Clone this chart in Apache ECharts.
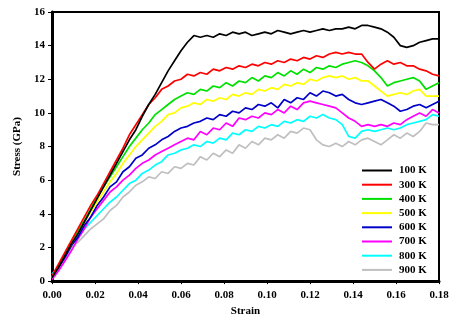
<!DOCTYPE html>
<html><head><meta charset="utf-8">
<script src="https://cdn.jsdelivr.net/npm/echarts@6/dist/echarts.min.js"></script>
<style>html,body{margin:0;padding:0;background:#fff}#c{width:453px;height:322px}</style>
</head><body><div id="c"></div>
<script>
var strain = [0,0.003,0.006,0.009,0.012,0.015,0.018,0.021,0.024,0.027,0.030,0.033,0.036,0.039,0.042,0.045,0.048,0.051,0.054,0.057,0.060,0.063,0.066,0.069,0.072,0.075,0.078,0.081,0.084,0.087,0.090,0.093,0.096,0.099,0.102,0.105,0.108,0.111,0.114,0.117,0.120,0.123,0.126,0.129,0.132,0.135,0.138,0.141,0.144,0.147,0.150,0.153,0.156,0.159,0.162,0.165,0.168,0.171,0.174,0.177,0.180];
var names = ['100 K','300 K','400 K','500 K','600 K','700 K','800 K','900 K'];
var s100 = [0.2,0.8,1.5,2.2,2.8,3.5,4.2,4.9,5.6,6.3,7.0,7.7,8.4,9.0,9.8,10.5,11.1,11.8,12.5,13.1,13.7,14.2,14.6,14.5,14.6,14.5,14.7,14.6,14.8,14.7,14.8,14.6,14.7,14.8,14.7,14.9,14.8,14.7,14.8,14.9,14.8,14.9,15.0,14.9,15.0,15.0,15.1,15.0,15.2,15.2,15.1,15.0,14.8,14.5,14.0,13.9,14.0,14.2,14.3,14.4,14.4];
var s300 = [0.3,1.0,1.7,2.4,3.1,3.8,4.5,5.1,5.8,6.5,7.2,7.9,8.7,9.3,9.9,10.5,10.9,11.4,11.6,11.9,12.0,12.3,12.2,12.4,12.3,12.6,12.5,12.7,12.6,12.8,12.7,12.9,12.8,13.0,12.9,13.1,13.0,13.2,13.1,13.3,13.2,13.4,13.3,13.5,13.6,13.5,13.6,13.5,13.5,13.0,12.6,12.9,13.1,12.9,13.0,12.8,12.8,12.6,12.5,12.3,12.2];
var s400 = [0.2,0.9,1.6,2.3,3.0,3.6,4.3,5.0,5.6,6.2,6.8,7.4,8.0,8.5,9.0,9.4,9.9,10.2,10.5,10.8,11.0,11.2,11.1,11.4,11.3,11.6,11.5,11.8,11.6,11.9,11.8,12.1,11.9,12.2,12.1,12.4,12.2,12.5,12.3,12.6,12.4,12.7,12.6,12.8,12.7,12.9,13.0,13.1,13.0,12.8,12.5,12.1,11.6,11.8,11.9,12.0,12.1,11.9,11.4,11.6,11.8];
var s500 = [0.2,0.9,1.6,2.2,2.9,3.5,4.1,4.7,5.3,5.9,6.4,7.0,7.5,8.0,8.4,8.8,9.2,9.5,9.9,10.0,10.3,10.4,10.6,10.5,10.8,10.7,10.9,10.8,11.1,11.0,11.2,11.1,11.4,11.3,11.5,11.4,11.7,11.6,11.8,11.7,12.0,11.9,12.1,12.2,12.1,12.2,12.0,12.1,11.9,11.9,11.6,11.3,11.0,11.1,11.2,11.1,11.3,11.4,11.0,11.0,11.0];
var s600 = [0.3,0.8,1.4,2.1,2.6,3.3,3.8,4.5,5.0,5.6,5.9,6.5,6.8,7.3,7.5,7.9,8.1,8.4,8.6,8.9,9.1,9.2,9.4,9.5,9.7,9.6,9.9,9.8,10.1,10.0,10.3,10.2,10.5,10.4,10.6,10.3,10.8,10.6,10.9,10.8,11.2,11.0,11.3,11.2,11.0,11.1,10.8,10.6,10.5,10.6,10.7,10.8,10.6,10.4,10.1,10.2,10.4,10.5,10.3,10.5,10.7];
var s700 = [0.1,0.6,1.2,1.8,2.5,3.1,3.8,4.3,4.8,5.3,5.6,6.0,6.3,6.7,7.0,7.2,7.5,7.7,7.9,8.1,8.3,8.5,8.4,8.9,8.7,9.1,9.0,9.4,9.2,9.7,9.6,9.8,9.7,10.0,9.9,10.2,10.0,10.4,10.2,10.6,10.7,10.6,10.5,10.4,10.3,10.0,9.7,9.5,9.2,9.3,9.2,9.3,9.2,9.4,9.3,9.6,9.8,10.0,9.8,10.2,10.0];
var s800 = [0.4,0.9,1.5,2.2,2.6,3.1,3.5,3.9,4.3,4.7,5.0,5.4,5.8,6.0,6.4,6.6,6.9,7.1,7.5,7.6,7.8,7.9,8.1,8.0,8.3,8.2,8.5,8.4,8.8,8.7,9.0,8.9,9.2,9.1,9.3,9.2,9.5,9.4,9.6,9.5,9.8,9.7,9.9,9.7,9.6,9.3,8.6,8.5,8.9,9.0,8.9,9.0,9.1,9.0,9.1,9.3,9.4,9.5,9.6,9.9,9.8];
var s900 = [0.2,0.8,1.4,2.0,2.3,2.7,3.1,3.4,3.7,4.2,4.5,5.0,5.3,5.7,5.9,6.2,6.1,6.5,6.4,6.8,6.7,7.0,6.9,7.4,7.2,7.6,7.4,7.8,7.6,8.1,7.9,8.3,8.1,8.5,8.4,8.7,8.5,8.9,8.8,9.1,9.0,8.4,8.1,8.0,8.2,8.0,8.3,8.1,8.4,8.5,8.3,8.1,8.4,8.7,8.5,8.8,8.6,8.9,9.4,9.3,9.3];
var colors = ['#000000','#ff0000','#00e000','#ffff00','#0000c8','#ff00ff','#00ffff','#bfbfbf'];
var all = [s100,s300,s400,s500,s600,s700,s800,s900];

var font = 'Liberation Serif';
var chart = echarts.init(document.getElementById('c'), null, {renderer:'canvas'});
var series = all.map(function(arr, k){
  return {
    name: names[k], type:'line', symbol:'none', smooth:false,
    data: arr.map(function(v,i){return [strain[i], v];}),
    lineStyle:{color:colors[k], width:1.7},
    itemStyle:{color:colors[k]},
    z: 10 - k
  };
});
chart.setOption({
  animation:false,
  color: colors,
  grid:{left:52, right:14, top:12, bottom:38, show:true, borderColor:'#000', borderWidth:2},
  xAxis:{
    type:'value', min:0, max:0.18, interval:0.02,
    name:'Strain', nameLocation:'middle', nameGap:22,
    nameTextStyle:{fontFamily:font, fontWeight:'bold', fontSize:11, color:'#000'},
    axisLine:{show:true, lineStyle:{color:'#000', width:3}},
    axisTick:{show:true, length:3, lineStyle:{color:'#000', width:1}},
    splitLine:{show:false},
    axisLabel:{fontFamily:font, fontWeight:'bold', fontSize:11, color:'#000', margin:9,
      formatter:function(v){return v.toFixed(2);}}
  },
  yAxis:{
    type:'value', min:0, max:16, interval:2,
    name:'Stress (GPa)', nameLocation:'middle', nameGap:27, nameRotate:90,
    nameTextStyle:{fontFamily:font, fontWeight:'bold', fontSize:11, color:'#000'},
    axisLine:{show:true, lineStyle:{color:'#000', width:3}},
    axisTick:{show:true, length:4, lineStyle:{color:'#000', width:1}},
    splitLine:{show:false},
    axisLabel:{fontFamily:font, fontWeight:'bold', fontSize:11, color:'#000', margin:7}
  },
  legend:{
    orient:'vertical', left:362, top:165, padding:0,
    itemWidth:30, itemHeight:10, itemGap:3.2,
    icon:'path://M0,4 L30,4 L30,6 L0,6 Z',
    data: names,
    textStyle:{fontFamily:font, fontWeight:'bold', fontSize:11, color:'#000', padding:[0,0,0,2]}
  },
  series: series
});
</script></body></html>
